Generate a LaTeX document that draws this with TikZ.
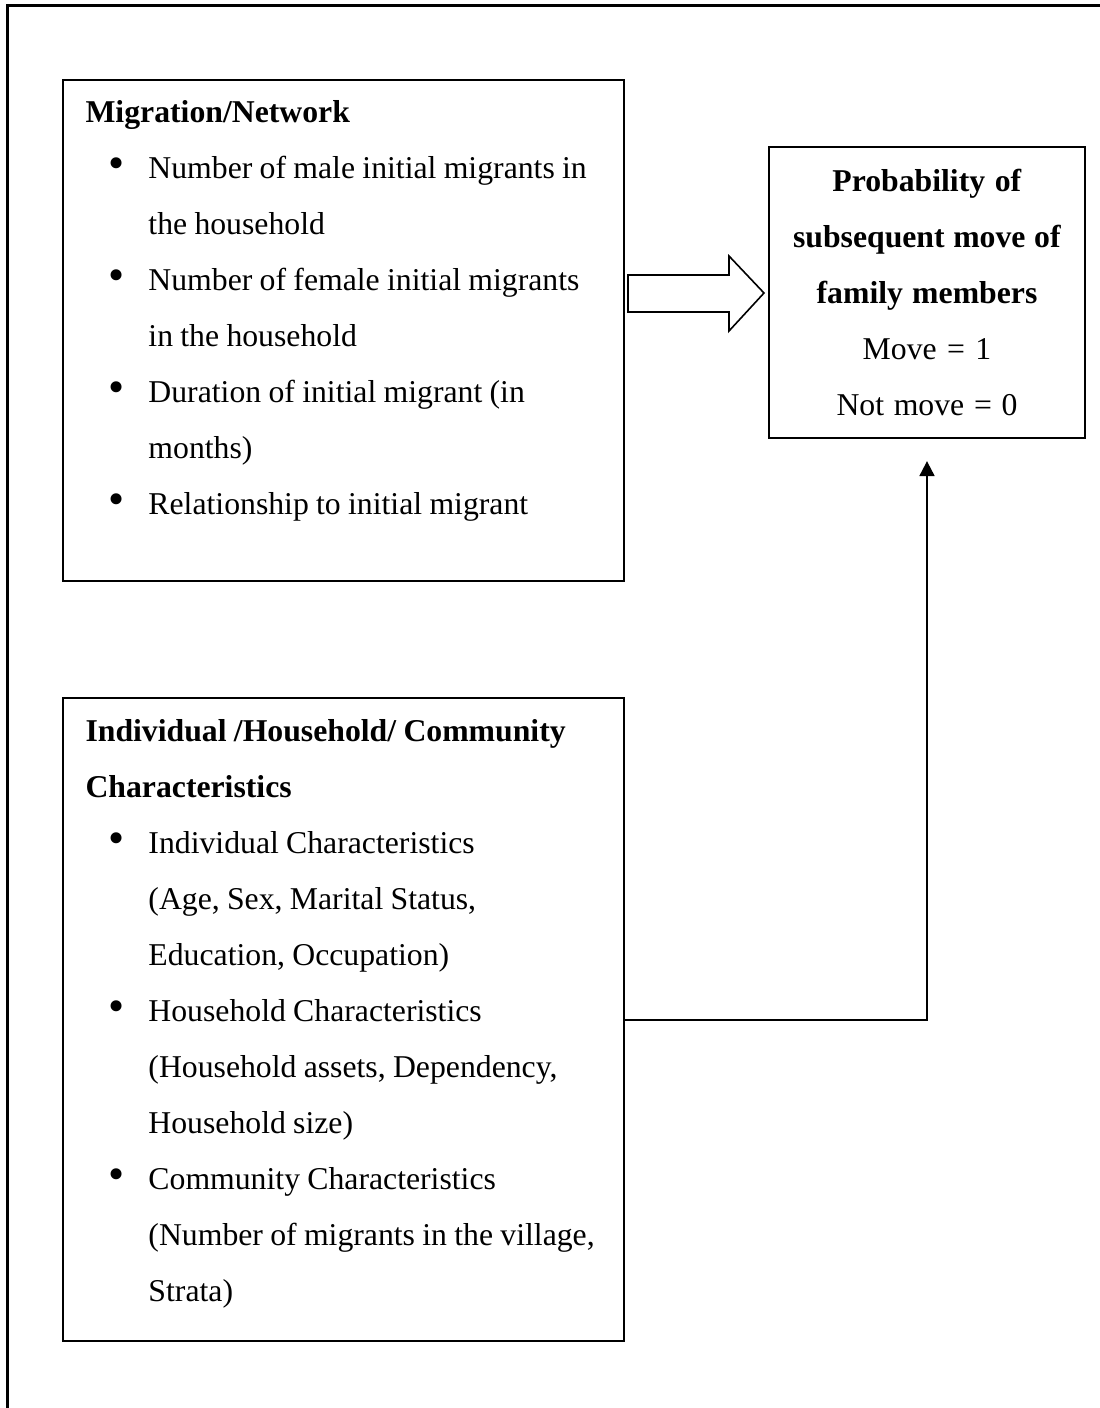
\documentclass[tikz,border=0pt]{standalone}
\usepackage{fontspec}
\setmainfont{Liberation Serif}
\usetikzlibrary{fit,arrows.meta}
\newcommand{\tightsp}{\spaceskip=0.23em plus 0.05em\relax}
\newcommand{\bitem}{\par\noindent\hangindent=23.6pt\hangafter=1%
  \makebox[23.6pt][l]{\hspace{8.5pt}\scalebox{1.45}{\textbullet}}}
\tikzset{
  frame/.style={line width=1.1pt},
  box/.style={draw, line width=0.75pt, inner sep=0pt},
  boxtext/.style={inner sep=0pt, anchor=north west, text width=230pt,
    font=\fontsize{11.9pt}{21pt}\selectfont},
  conn/.style={line width=0.75pt, -{Triangle[length=5.6pt,width=5.6pt]}},
  bigarrow/.style={draw, line width=0.6pt}
}
\begin{document}
\begin{tikzpicture}[x=0.375pt,y=-0.375pt]
  \useasboundingbox (0,0) rectangle (1099,1408);
  % outer frame
  \draw[frame] (7.5,1410) -- (7.5,5.5) -- (1101,5.5);
  % boxes
  \node[box, fit={(63,80) (624,581)}] (netbox) {};
  \node[box, fit={(769,147) (1085,438)}] (probbox) {};
  \node[box, fit={(63,698) (624,1341)}] (charbox) {};
  % texts
  \node[boxtext] (nettext) at (85,82.8) {\raggedright\tightsp
    \noindent\strut\textbf{Migration/Network}
    \bitem Number of male initial migrants in\newline the household
    \bitem Number of female initial migrants\newline in the household
    \bitem Duration of initial migrant (in\newline months)
    \bitem Relationship to initial migrant\par};
  \node[boxtext, anchor=north, text width=140pt, align=center] (probtext) at (927,151.8) {%
    \tightsp\strut\textbf{Probability of}\\
    \textbf{subsequent move of}\\
    \textbf{family members}\\
    Move = 1\\
    Not move = 0};
  \node[boxtext] (chartext) at (85,701.8) {\raggedright\tightsp
    \noindent\strut\textbf{Individual /Household/ Community}\par
    \noindent\textbf{Characteristics}
    \bitem Individual Characteristics\newline (Age, Sex, Marital Status,\newline Education, Occupation)
    \bitem Household Characteristics\newline (Household assets, Dependency,\newline Household size)
    \bitem Community Characteristics\newline (Number of migrants in the village,\newline Strata)\par};
  % arrows
  \draw[bigarrow] (628,275) -- (729,275) -- (729,256) -- (764,293)
    -- (729,331) -- (729,312) -- (628,312) -- cycle;
  \draw[conn] (charbox.east) -| ([yshift=-8.3pt]probbox.south);
\end{tikzpicture}
\end{document}
